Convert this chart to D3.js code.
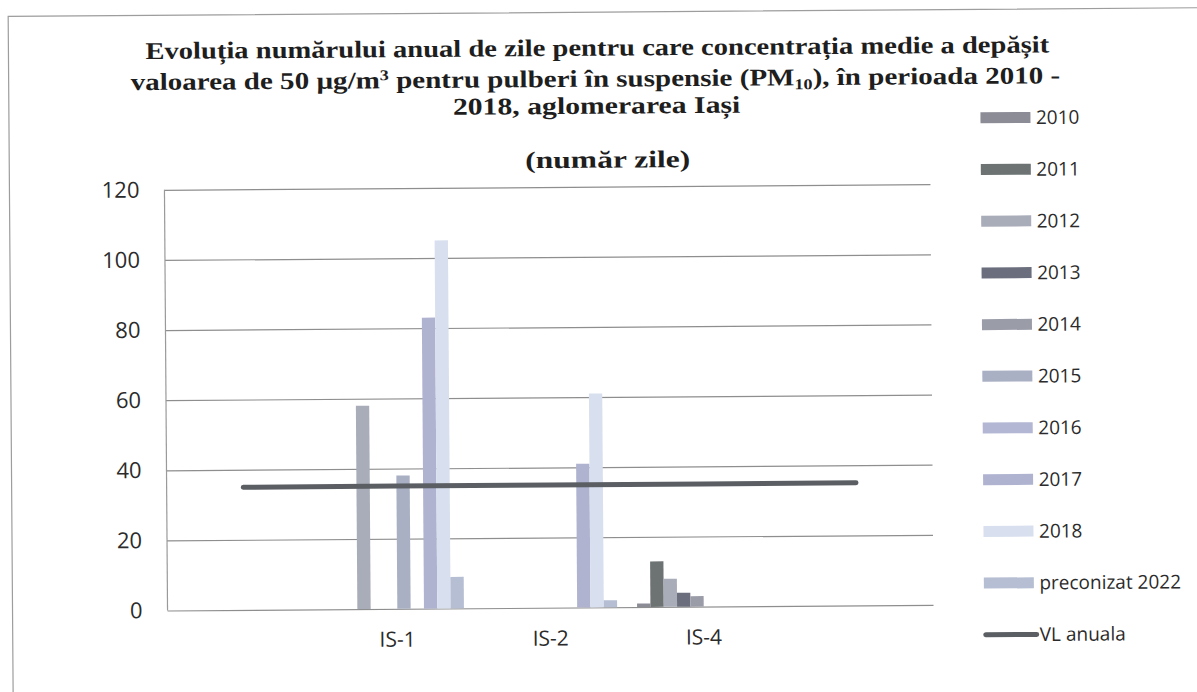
<!DOCTYPE html>
<html>
<head>
<meta charset="utf-8">
<script src="https://cdn.jsdelivr.net/npm/d3@7"></script>
<style>
  html, body { margin: 0; padding: 0; background: #ffffff; }
  svg { display: block; }
</style>
</head>
<body>
<svg id="chart" width="1197" height="692"></svg>
<script>
// ---------- data ----------
const categories = ["", "IS-1", "IS-2", "IS-4", ""];
const seriesNames = ["2010", "2011", "2012", "2013", "2014", "2015", "2016", "2017", "2018", "preconizat 2022"];
const v2010 = [null, null, null, 1, null];
const v2011 = [null, null, null, 13, null];
const v2012 = [null, 58, null, 8, null];
const v2013 = [null, null, null, 4, null];
const v2014 = [null, null, null, 3, null];
const v2015 = [null, 38, null, null, null];
const v2016 = [null, null, null, null, null];
const v2017 = [null, 83, 41, null, null];
const v2018 = [null, 105, 61, null, null];
const vPreconizat2022 = [null, 9, 2, null, null];
const vlAnuala = [35, 35, 35, 35, 35];
const lineName = "VL anuala";
const yTicks = [0, 20, 40, 60, 80, 100, 120];
const titleLines = [
  "Evoluția numărului anual de zile pentru care concentrația medie a depășit",
  "valoarea de 50 µg/m|3| pentru pulberi în suspensie (PM_10_), în perioada 2010 -",
  "2018, aglomerarea Iași",
  "(număr zile)"
];

// ---------- styles ----------
const seriesColors = ["#8c8c97", "#6d7373", "#a9acb9", "#6a6e7d", "#9a9ca8",
                      "#aab0c4", "#b3b7d3", "#afb3d0", "#d8dfee", "#b5bed2"];
const lineColor = "#5b5f63";

const seriesValues = [v2010, v2011, v2012, v2013, v2014, v2015, v2016, v2017, v2018, vPreconizat2022];

const svg = d3.select("#chart");
svg.append("rect").attr("width", 1197).attr("height", 692).attr("fill", "#fff");
const root = svg.append("g").attr("transform", "rotate(-0.42, 550, 400)");

// outer border
root.append("rect").attr("x", 11).attr("y", 12.5).attr("width", 1300).attr("height", 800)
  .attr("fill", "none").attr("stroke", "#9d9d9d").attr("stroke-width", 1.2);

const L = 166, R = 932, T = 187, B = 607.7;
const x = d3.scaleBand().domain(d3.range(categories.length)).range([L, R]).padding(0);
const bw = x.bandwidth();
const barW = bw / (seriesNames.length + 1.5);
const xs = d3.scaleBand().domain(seriesNames).range([barW * 0.75, bw - barW * 0.75]).padding(0);
const y = d3.scaleLinear().domain([0, 120]).range([B, T]);

const font = "'Open Sans', 'Liberation Sans', sans-serif";
const labelColor = "#2b2b2b";
const legendSize = 19;

// gridlines + y labels
const yAxis = root.append("g").attr("transform", `translate(${L},0)`)
  .call(d3.axisLeft(y).tickValues(yTicks).tickSize(-(R - L)).tickPadding(25));
yAxis.select(".domain").remove();
yAxis.selectAll(".tick line").attr("stroke", "#8e8e8e").attr("stroke-width", 1.2);
yAxis.selectAll(".tick text").attr("font-family", font).attr("font-size", 22).attr("fill", labelColor);
// left axis line
root.append("line").attr("x1", L).attr("x2", L).attr("y1", T).attr("y2", B)
  .attr("stroke", "#9a9a9a").attr("stroke-width", 1.2);

// x labels
const xAxis = root.append("g").attr("transform", `translate(0,${B})`)
  .call(d3.axisBottom(x).tickFormat(i => categories[i]).tickSize(0).tickPadding(23));
xAxis.select(".domain").remove();
xAxis.selectAll(".tick text").attr("font-family", font).attr("font-size", 21).attr("fill", labelColor);

// bars
seriesNames.forEach((s, si) => {
  const data = seriesValues[si].map((v, ci) => ({ v, ci })).filter(d => d.v != null);
  root.append("g").selectAll("rect").data(data).join("rect")
    .attr("x", d => x(d.ci) + xs(s))
    .attr("width", xs.bandwidth())
    .attr("y", d => y(d.v))
    .attr("height", d => y(0) - y(d.v))
    .attr("fill", seriesColors[si]);
});

// VL line
root.append("path")
  .datum(vlAnuala)
  .attr("d", d3.line().x((d, i) => x(i) + bw / 2).y(d => y(d)))
  .attr("fill", "none").attr("stroke", lineColor).attr("stroke-width", 5).attr("stroke-linecap", "round");

// legend
const legend = root.append("g");
const rowY = i => 121 + i * 51.7;
seriesNames.forEach((s, i) => {
  legend.append("rect").attr("x", 982.5).attr("y", rowY(i) - 5.5).attr("width", 50).attr("height", 11)
    .attr("fill", seriesColors[i]);
  legend.append("text").attr("x", 1038).attr("y", rowY(i)).attr("dy", "0.35em")
    .attr("font-family", font).attr("font-size", legendSize).attr("fill", labelColor).text(s);
});
const li = seriesNames.length;
legend.append("line").attr("x1", 984).attr("x2", 1035).attr("y1", rowY(li)).attr("y2", rowY(li))
  .attr("stroke", lineColor).attr("stroke-width", 5).attr("stroke-linecap", "round");
legend.append("text").attr("x", 1038).attr("y", rowY(li)).attr("dy", "0.35em")
  .attr("font-family", font).attr("font-size", legendSize).attr("fill", labelColor).text(lineName);

// title
const titleGeom = [
  { left: 148, width: 904, base: 56 },
  { left: 133, width: 930, base: 87 },
  { left: 455, width: 288, base: 114 },
  { left: 527, width: 165, base: 168 }
];
titleLines.forEach((line, i) => {
  const g = root.append("g");
  const t = g.append("text").attr("x", 0).attr("y", 0)
    .attr("font-family", "'Liberation Serif', 'Times New Roman', serif")
    .attr("font-weight", "bold").attr("font-size", 24).attr("fill", "#1e1e1e");
  const parts = line.split(/(\|[^|]+\||_[^_]+_)/).filter(p => p.length);
  let pending = 0;
  parts.forEach(p => {
    if (p.startsWith("|")) {
      t.append("tspan").attr("font-size", 15).attr("dy", pending - 8).text(p.slice(1, -1));
      pending = 8;
    } else if (p.startsWith("_")) {
      t.append("tspan").attr("font-size", 15).attr("dy", pending + 4).text(p.slice(1, -1));
      pending = -4;
    } else {
      t.append("tspan").attr("dy", pending).text(p);
      pending = 0;
    }
  });
  const w = t.node().getBBox().width;
  const geo = titleGeom[i];
  g.attr("transform", `translate(${geo.left},${geo.base}) scale(${geo.width / w},1)`);
});
</script>
</body>
</html>
